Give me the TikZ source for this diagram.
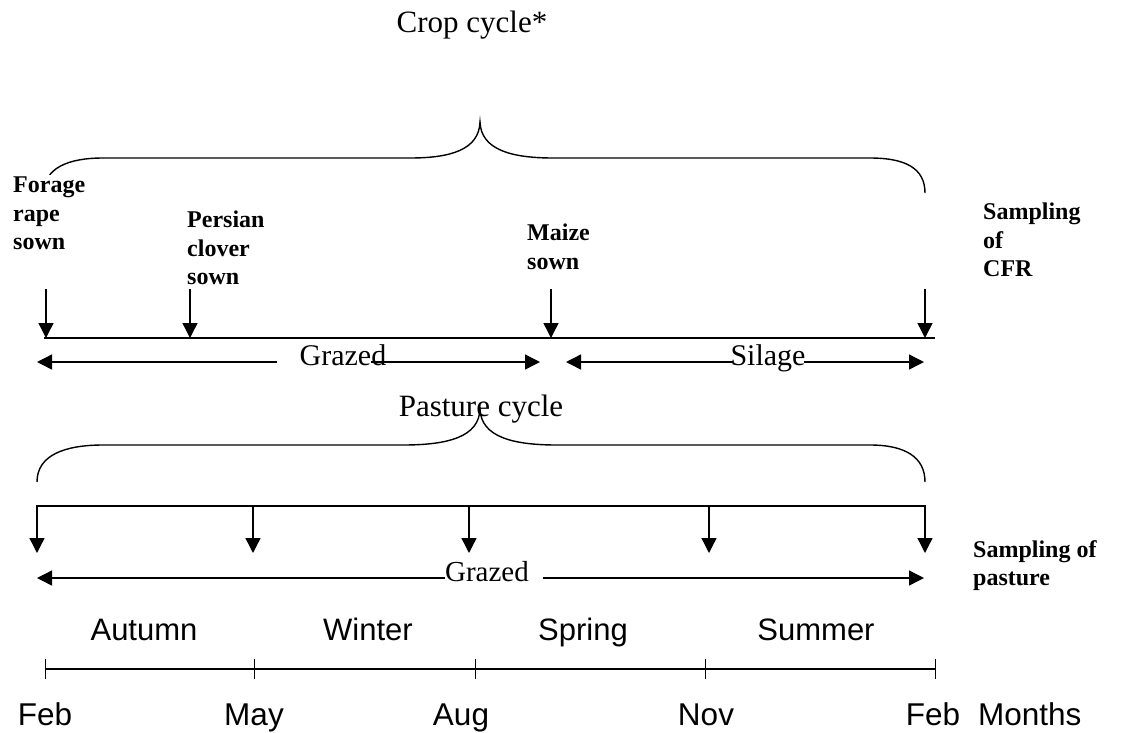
\documentclass[tikz,border=0pt]{standalone}
\usepackage{fontspec}
\setmainfont{Liberation Serif}
\newfontfamily\arialfont{Liberation Sans}
\usetikzlibrary{arrows.meta,calc}
\begin{document}
\begin{tikzpicture}[x=1pt,y=-1pt,
  ln/.style={line width=1.4pt},
  arr/.style={line width=1.4pt,-{Triangle[length=15pt,width=15pt]}},
  dblarr/.style={line width=1.4pt,{Triangle[length=15pt,width=15pt]}-{Triangle[length=15pt,width=15pt]}},
  title/.style={font=\fontsize{31}{35}\selectfont, inner sep=0pt, anchor=base},
  period/.style={font=\fontsize{30}{34}\selectfont, inner sep=0pt, anchor=base},
  boldlbl/.style={font=\fontsize{24}{28.5}\selectfont\bfseries, align=left, inner sep=0pt, anchor=north west},
  season/.style={font=\arialfont\fontsize{31}{34}\selectfont, inner sep=0pt, anchor=base},
  month/.style={font=\arialfont\fontsize{31.5}{35}\selectfont, inner sep=0pt, anchor=base},
]
\useasboundingbox (0,0) rectangle (1128,732);

% ---------- crop cycle ----------
\node[title] (crop) at (472,32) {Crop cycle*};

% brace over the crop cycle
\draw[ln] (44,193) .. controls (44,168) and (68,158) .. (103,158)
  -- (410,158) .. controls (450,158) and (479,150) .. (480,122)
  .. controls (481,150) and (512,158) .. (553,158)
  -- (870,158) .. controls (905,158) and (925,168) .. (925,193);

\node[boldlbl, fill=white, inner sep=2pt] (forage) at (11,175) {Forage\\rape\\sown};
\node[boldlbl] (persian) at (187,211) {Persian\\clover\\sown};
\node[boldlbl] (maize) at (527,224) {Maize\\sown};
\node[boldlbl] (cfr) at (983,203) {Sampling\\of\\CFR};

% time line of the crop
\coordinate (cl) at (44,338);
\coordinate (cr) at (935,338);
\draw[ln] (cl) -- (cr);

\coordinate (c1) at (46,289);
\coordinate (c2) at (190,289);
\coordinate (c3) at (551,289);
\coordinate (c4) at (925,289);
\foreach \c in {c1,c2,c3,c4}
  \draw[arr] (\c) -- (\c |- cl);

% grazed / silage periods
\node[period] (graze1) at (343,365) {Grazed};
\coordinate (g1a) at (277,362);
\coordinate (g1l) at (37,362);
\coordinate (g1b) at (371,362);
\coordinate (g1r) at (540,362);
\draw[arr] (g1a) -- (g1l);
\draw[arr] (g1b) -- (g1r);

\node[period] (silage) at (768,365) {Silage};
\coordinate (s1a) at (733,362);
\coordinate (s1l) at (566,362);
\coordinate (s1b) at (804,362);
\coordinate (s1r) at (924,362);
\draw[arr] (s1a) -- (s1l);
\draw[arr] (s1b) -- (s1r);

% ---------- pasture cycle ----------
\node[title] (pasture) at (481,416) {Pasture cycle};

\draw[ln] (37,482) .. controls (37,455) and (65,445) .. (103,445)
  -- (403,445) .. controls (448,445) and (479,437) .. (480,409)
  .. controls (481,437) and (513,445) .. (557,445)
  -- (870,445) .. controls (905,445) and (925,457) .. (925,482);

\coordinate (pl) at (37,506);
\coordinate (pr) at (925,506);
\coordinate (plt) at (37,553);
\coordinate (prt) at (925,553);
\draw[dblarr] (plt) -- (pl) -- (pr) -- (prt);
\coordinate (p2) at (253,506);
\coordinate (p3) at (469,506);
\coordinate (p4) at (709,506);
\foreach \p in {p2,p3,p4}
  \draw[arr] (\p) -- (\p |- plt);

\node[boldlbl] (spast) at (973,540) {Sampling of\\pasture};

\node[period, font=\fontsize{29}{33}\selectfont] (graze2) at (487,581) {Grazed};
\coordinate (g2a) at (445,578);
\coordinate (g2l) at (37,578);
\coordinate (g2b) at (543,578);
\coordinate (g2r) at (924,578);
\draw[arr] (g2a) -- (g2l);
\draw[arr] (g2b) -- (g2r);

% ---------- seasons and months ----------
\node[season] (autumn) at (144,640) {Autumn};
\node[season] (winter) at (368,640) {Winter};
\node[season] (spring) at (583,640) {Spring};
\node[season] (summer) at (816,640) {Summer};

\coordinate (t1) at (45,669);
\coordinate (t2) at (254,669);
\coordinate (t3) at (475,669);
\coordinate (t4) at (705,669);
\coordinate (t5) at (935,669);
\draw[line width=2pt] (t1) -- (t5);
\foreach \t in {t1,t2,t3,t4,t5}
  \draw[line width=1pt] ($(\t)+(0,-10)$) -- ($(\t)+(0,10)$);

\node[month] (feb1) at (45,725) {Feb};
\node[month] (may) at (254,725) {May};
\node[month] (aug) at (461,725) {Aug};
\node[month] (nov) at (706,725) {Nov};
\node[month] (feb2) at (933,725) {Feb};
\node[month, anchor=base west] (months) at (978,725) {Months};
\end{tikzpicture}
\end{document}
